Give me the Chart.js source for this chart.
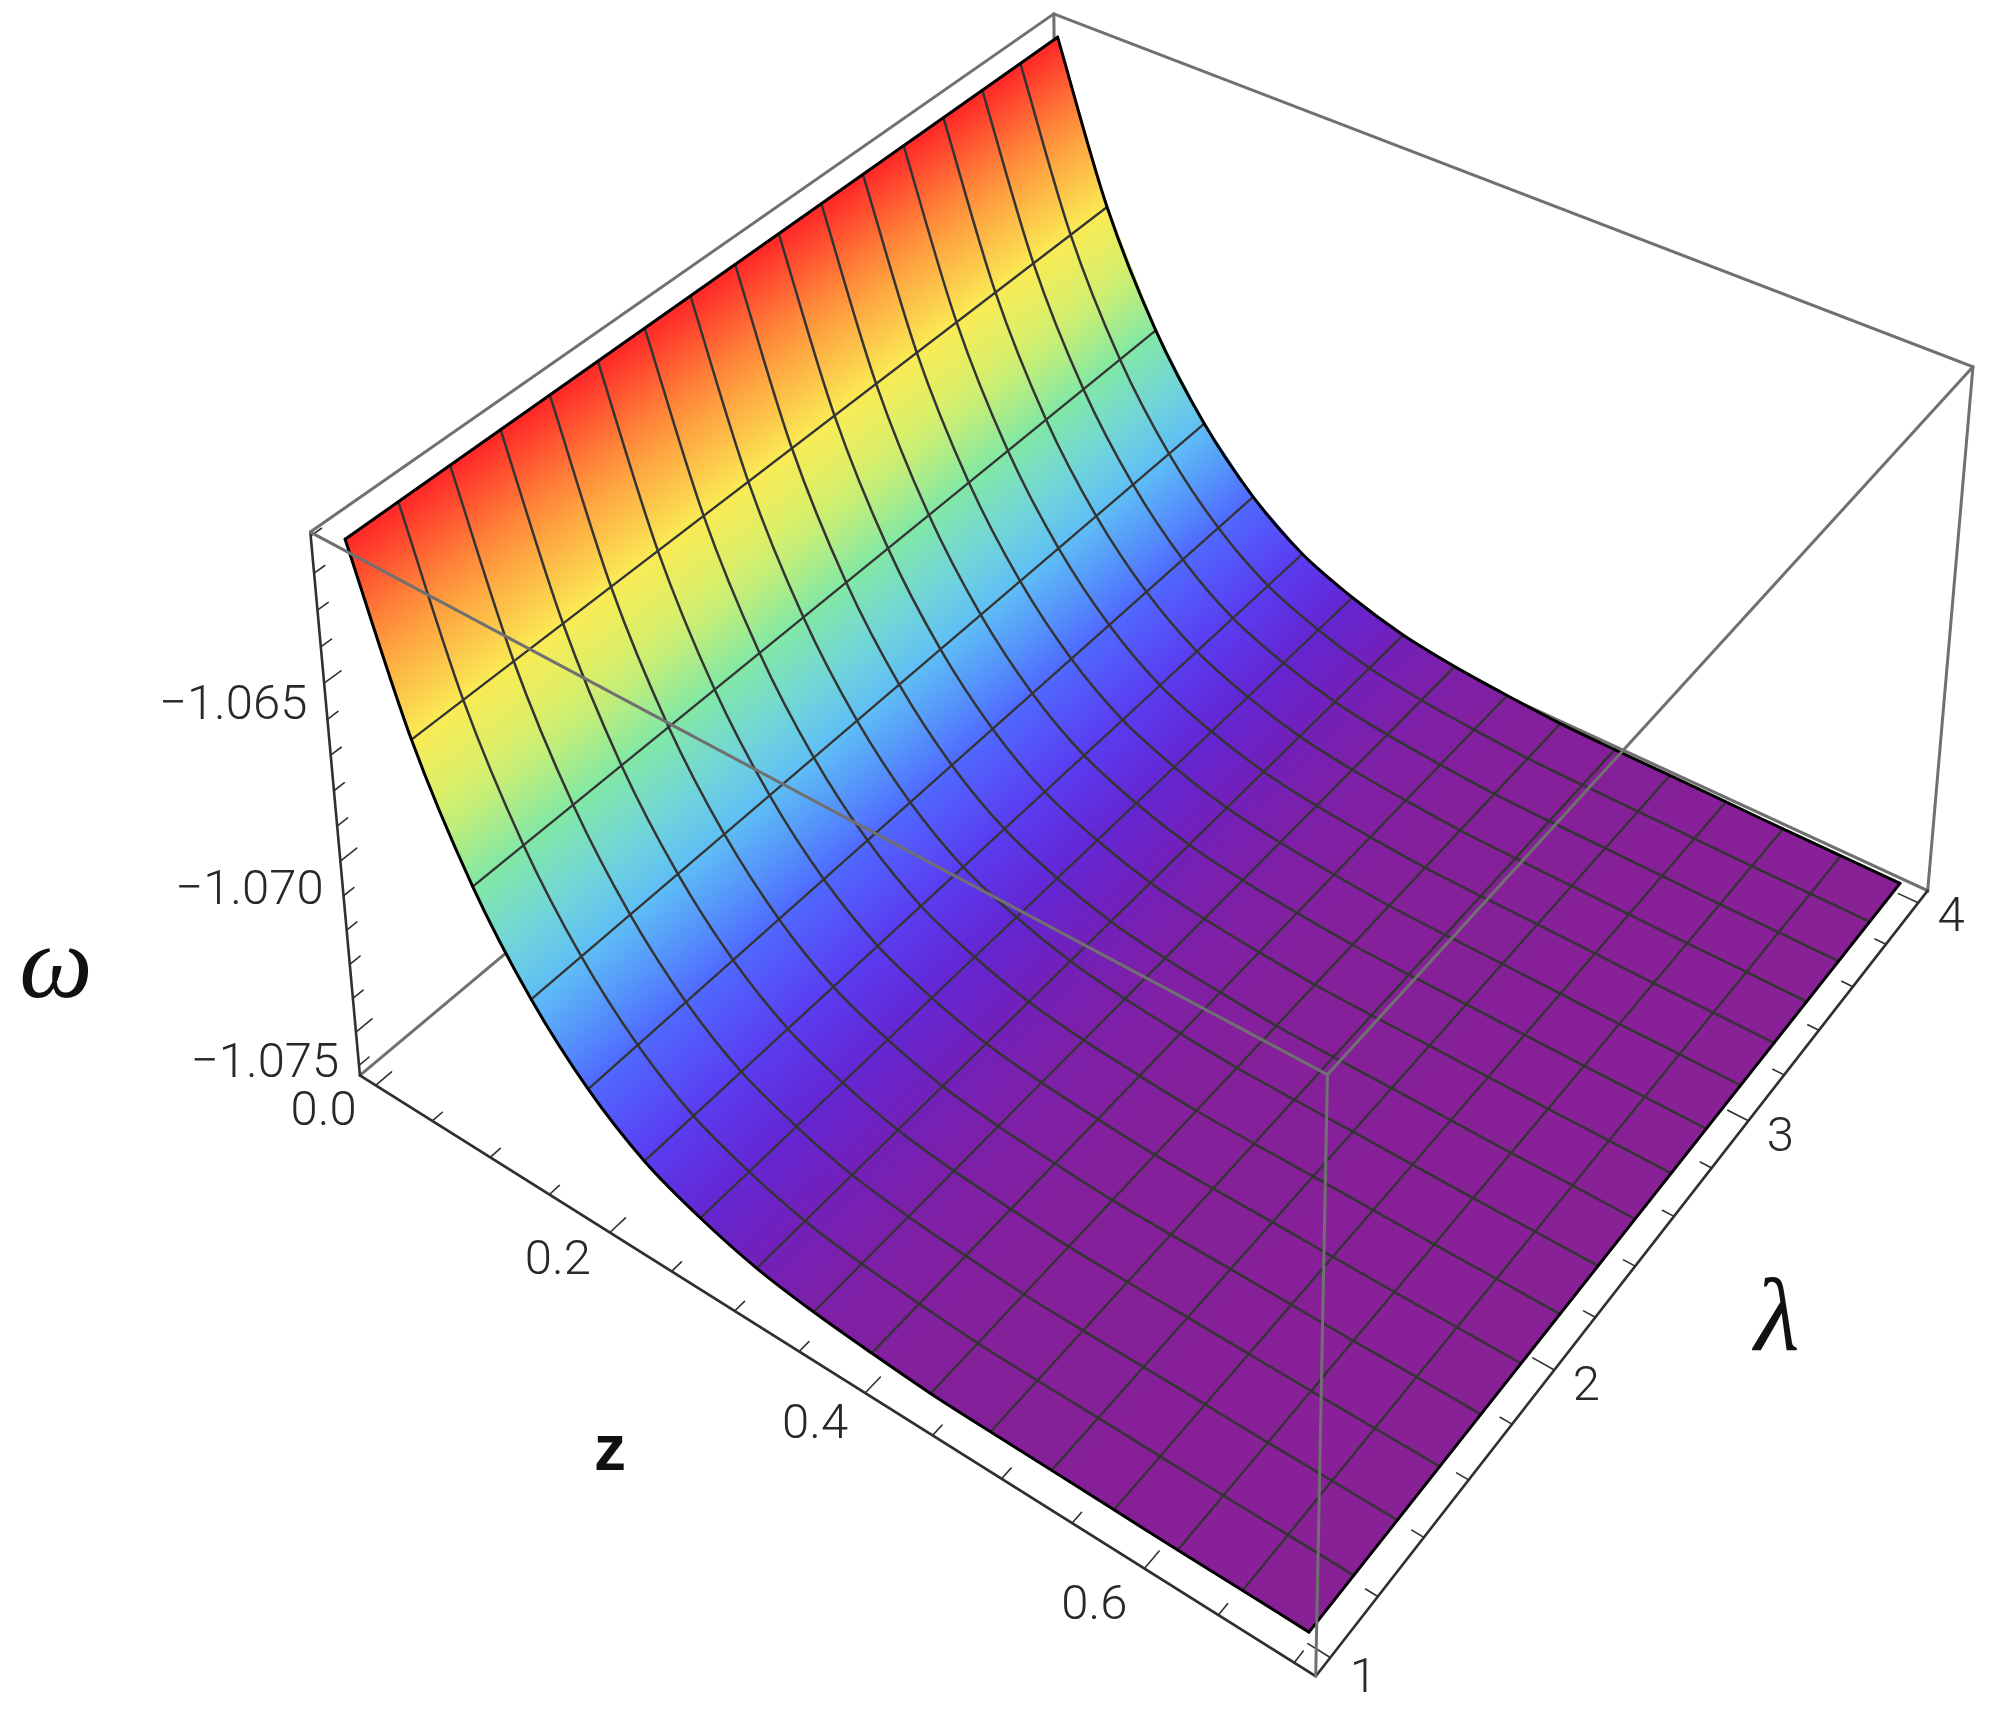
<!DOCTYPE html>
<html>
<head>
<meta charset="utf-8">
<style>body{margin:0;background:#fff}canvas{display:block}</style>
<script src="https://cdn.jsdelivr.net/npm/chart.js@4/dist/chart.umd.min.js"></script>
</head>
<body>
<canvas id="myChart" width="2000" height="1716"></canvas>
<script>
// surface: omega does not change with lambda, one height per z mesh line
const zValues = [0, 0.04375, 0.0875, 0.13125, 0.175, 0.21875, 0.2625, 0.30625, 0.35, 0.39375, 0.4375, 0.48125, 0.525, 0.56875, 0.6125, 0.65625, 0.7];
const lambdaValues = [1, 1.1875, 1.375, 1.5625, 1.75, 1.9375, 2.125, 2.3125, 2.5, 2.6875, 2.875, 3.0625, 3.25, 3.4375, 3.625, 3.8125, 4];
const omegaValues = [-1.06118, -1.06586, -1.06913, -1.07145, -1.07311, -1.07424, -1.07491, -1.07537, -1.07562, -1.07577, -1.07588, -1.07591, -1.07592, -1.07594, -1.07596, -1.07596, -1.07597];

// axes
const zRange = [-0.014, 0.714];
const lambdaRange = [0.94, 4.06];
const omegaRange = [-1.0763, -1.0609];
const zMajorTicks = [0, 0.2, 0.4, 0.6];
const zMinorTicks = [0.05, 0.1, 0.15, 0.25, 0.3, 0.35, 0.45, 0.5, 0.55, 0.65, 0.7];
const lambdaMajorTicks = [1, 2, 3, 4];
const lambdaMinorTicks = [1.2, 1.4, 1.6, 1.8, 2.2, 2.4, 2.6, 2.8, 3.2, 3.4, 3.6, 3.8];
const omegaMajorTicks = [-1.075, -1.07, -1.065];
const omegaMinorTicks = [-1.076, -1.074, -1.073, -1.072, -1.071, -1.069, -1.068, -1.067, -1.066, -1.064, -1.063, -1.062, -1.061];
const zTickLabels = ['0.0', '0.2', '0.4', '0.6'];
const lambdaTickLabels = ['1', '2', '3', '4'];
const omegaTickLabels = ['\u22121.075', '\u22121.070', '\u22121.065'];

// colour by height
const rampOmega = [-1.06118, -1.06352, -1.06586, -1.0675, -1.06913, -1.07029, -1.07145, -1.07228, -1.07311, -1.07424, -1.07491, -1.07537, -1.07562, -1.07588, -1.07597];
const rampColors = [[255,38,40], [255,150,60], [250,235,85], [210,240,110], [130,232,165], [115,215,215], [95,190,245], [85,150,250], [80,105,255], [90,60,240], [100,38,210], [115,32,185], [125,32,168], [133,32,155], [136,32,150]];

// camera fitted to the box, maps the unit cube to the page
const camera = [
  [758.8733, 916.4491, -67.76062, 359.9278],
  [349.9196, -485.0127, -574.5033, 1075.413],
  [-0.1496523, 0.2054445, -0.05857058, 1]
];

const norm = (v, r) => (v - r[0]) / (r[1] - r[0]);

function cube(u, v, w) {
  const d = camera[2][0] * u + camera[2][1] * v + camera[2][2] * w + camera[2][3];
  return {
    x: (camera[0][0] * u + camera[0][1] * v + camera[0][2] * w + camera[0][3]) / d,
    y: (camera[1][0] * u + camera[1][1] * v + camera[1][2] * w + camera[1][3]) / d
  };
}
const project = (z, l, om) => cube(norm(z, zRange), norm(l, lambdaRange), norm(om, omegaRange));

function colorAt(om) {
  let i = 0;
  while (i < rampOmega.length - 2 && om < rampOmega[i + 1]) i++;
  const t = Math.min(1, Math.max(0, (om - rampOmega[i]) / (rampOmega[i + 1] - rampOmega[i])));
  const c = rampColors[i].map((v, k) => Math.round(v + (rampColors[i + 1][k] - v) * t));
  return `rgb(${c[0]},${c[1]},${c[2]})`;
}

function quadGradient(chart, i, j) {
  const sx = chart.scales.x, sy = chart.scales.y;
  const px = p => ({ x: sx.getPixelForValue(p.x), y: sy.getPixelForValue(p.y) });
  const a = px(project(zValues[i], lambdaValues[j], omegaValues[i]));
  const b = px(project(zValues[i], lambdaValues[j + 1], omegaValues[i]));
  const c = px(project(zValues[i + 1], lambdaValues[j], omegaValues[i + 1]));
  const d = px(project(zValues[i + 1], lambdaValues[j + 1], omegaValues[i + 1]));
  // scales have no size yet on the first pass
  if (!isFinite(a.x + a.y)) return colorAt(omegaValues[i]);
  const top = { x: (a.x + b.x) / 2, y: (a.y + b.y) / 2 };
  const bot = { x: (c.x + d.x) / 2, y: (c.y + d.y) / 2 };
  const ex = b.x - a.x, ey = b.y - a.y, len = Math.hypot(ex, ey);
  const nx = -ey / len, ny = ex / len;
  const dist = (bot.x - top.x) * nx + (bot.y - top.y) * ny;
  const g = chart.ctx.createLinearGradient(top.x, top.y, top.x + nx * dist, top.y + ny * dist);
  for (let k = 0; k <= 5; k++) {
    g.addColorStop(k / 5, colorAt(omegaValues[i] + (omegaValues[i + 1] - omegaValues[i]) * k / 5));
  }
  return g;
}

const datasets = [];
const line = (data, color, width, order, tension = 0) => datasets.push({
  data, borderColor: color, borderWidth: width, order, tension,
  showLine: true, pointRadius: 0, fill: false, borderCapStyle: 'round'
});

// box edges
const zA = zRange[0], zB = zRange[1], lA = lambdaRange[0], lB = lambdaRange[1], oA = omegaRange[0], oB = omegaRange[1];
const boxGray = 'rgb(112,112,112)', axisDark = 'rgb(48,48,48)', meshDark = 'rgb(52,52,52)';
line([project(zA, lA, oB), project(zA, lB, oB), project(zB, lB, oB), project(zB, lB, oA), project(zA, lB, oA), project(zA, lA, oA)], boxGray, 3, 40);
line([project(zA, lB, oB), project(zA, lB, oA)], boxGray, 3, 40);
line([project(zA, lA, oB), project(zB, lA, oB), project(zB, lB, oB)], boxGray, 3, 10);
line([project(zB, lA, oB), project(zB, lA, oA)], boxGray, 3, 10);
line([project(zA, lA, oB), project(zA, lA, oA), project(zB, lA, oA), project(zB, lB, oA)], axisDark, 2.6, 12);

// surface cells
for (let i = 0; i < zValues.length - 1; i++) {
  for (let j = 0; j < lambdaValues.length - 1; j++) {
    const grad = ctx => quadGradient(ctx.chart, i, j);
    datasets.push({
      data: [
        project(zValues[i], lambdaValues[j], omegaValues[i]),
        project(zValues[i], lambdaValues[j + 1], omegaValues[i]),
        project(zValues[i + 1], lambdaValues[j + 1], omegaValues[i + 1]),
        project(zValues[i + 1], lambdaValues[j], omegaValues[i + 1]),
        project(zValues[i], lambdaValues[j], omegaValues[i])
      ],
      backgroundColor: grad, borderColor: grad, borderWidth: 1.5, fill: 'shape',
      showLine: true, pointRadius: 0, order: 30
    });
  }
}

// mesh lines and outline
zValues.forEach((z, i) => {
  const edge = i === 0 || i === zValues.length - 1;
  line([project(z, lambdaValues[0], omegaValues[i]), project(z, lambdaValues[lambdaValues.length - 1], omegaValues[i])], edge ? '#000' : meshDark, edge ? 3 : 2.3, edge ? 15 : 20);
});
lambdaValues.forEach((l, j) => {
  const edge = j === 0 || j === lambdaValues.length - 1;
  line(zValues.map((z, i) => project(z, l, omegaValues[i])), edge ? '#000' : meshDark, edge ? 3 : 2.5, edge ? 15 : 20, 0.3);
});

// tick marks, drawn into the box along its own directions
function addTick(p0, p1) { line([p0, p1], axisDark, 1.6, 12); }
const vTick = (u, w, len) => addTick(cube(u, 0, w), cube(u, len, w));
zMajorTicks.forEach(z => vTick(norm(z, zRange), 0, 0.019));
zMinorTicks.forEach(z => vTick(norm(z, zRange), 0, 0.012));
omegaMajorTicks.forEach(o => vTick(0, norm(o, omegaRange), 0.019));
omegaMinorTicks.forEach(o => vTick(0, norm(o, omegaRange), 0.012));
lambdaMajorTicks.forEach(l => addTick(cube(1, norm(l, lambdaRange), 0), cube(1 - 0.02, norm(l, lambdaRange), 0)));
lambdaMinorTicks.forEach(l => addTick(cube(1, norm(l, lambdaRange), 0), cube(1 - 0.011, norm(l, lambdaRange), 0)));

// tick labels and axis names
const zLabelShift = [[-52, 27], [-52, 29], [-50, 33], [-50, 38]];
const lambdaLabelShift = [[33, 22], [32, 18], [32, 18], [33, 16]];
const omegaLabelShift = [[-91, 33], [-91, 31], [-91, 24]];
const labelsPlugin = {
  id: 'labels3d',
  afterDraw(chart) {
    const c = chart.ctx;
    const sx = chart.scales.x, sy = chart.scales.y;
    const put = (text, p, shift, font, color) => {
      c.font = font;
      c.fillStyle = color;
      c.fillText(text, sx.getPixelForValue(p.x) + shift[0], sy.getPixelForValue(p.y) + shift[1]);
    };
    c.save();
    c.textAlign = 'center';
    c.textBaseline = 'middle';
    const tickFont = '300 49px Roboto, "Liberation Sans"', tickColor = 'rgb(40,40,40)';
    zTickLabels.forEach((t, i) => put(t, project(zMajorTicks[i], lA, oA), zLabelShift[i], tickFont, tickColor));
    lambdaTickLabels.forEach((t, i) => put(t, project(zB, lambdaMajorTicks[i], oA), lambdaLabelShift[i], tickFont, tickColor));
    omegaTickLabels.forEach((t, i) => put(t, project(zA, lA, omegaMajorTicks[i]), omegaLabelShift[i], tickFont, tickColor));
    put('\u03c9', { x: 56, y: 970 }, [0, 0], 'italic 104px "Liberation Serif"', '#111');
    put('\u03bb', { x: 1777, y: 1323 }, [0, 0], 'italic 104px "Liberation Serif"', '#111');
    put('z', { x: 610, y: 1452 }, [0, 0], 'bold 64px "Liberation Sans"', '#111');
    c.restore();
  }
};

new Chart(document.getElementById('myChart').getContext('2d'), {
  type: 'scatter',
  data: { datasets },
  plugins: [labelsPlugin],
  options: {
    responsive: false,
    animation: false,
    devicePixelRatio: 1,
    layout: { padding: 0 },
    scales: {
      x: { type: 'linear', min: 0, max: 2000, display: false },
      y: { type: 'linear', min: 0, max: 1716, reverse: true, display: false }
    },
    plugins: { legend: { display: false }, tooltip: { enabled: false } }
  }
});
</script>
</body>
</html>
